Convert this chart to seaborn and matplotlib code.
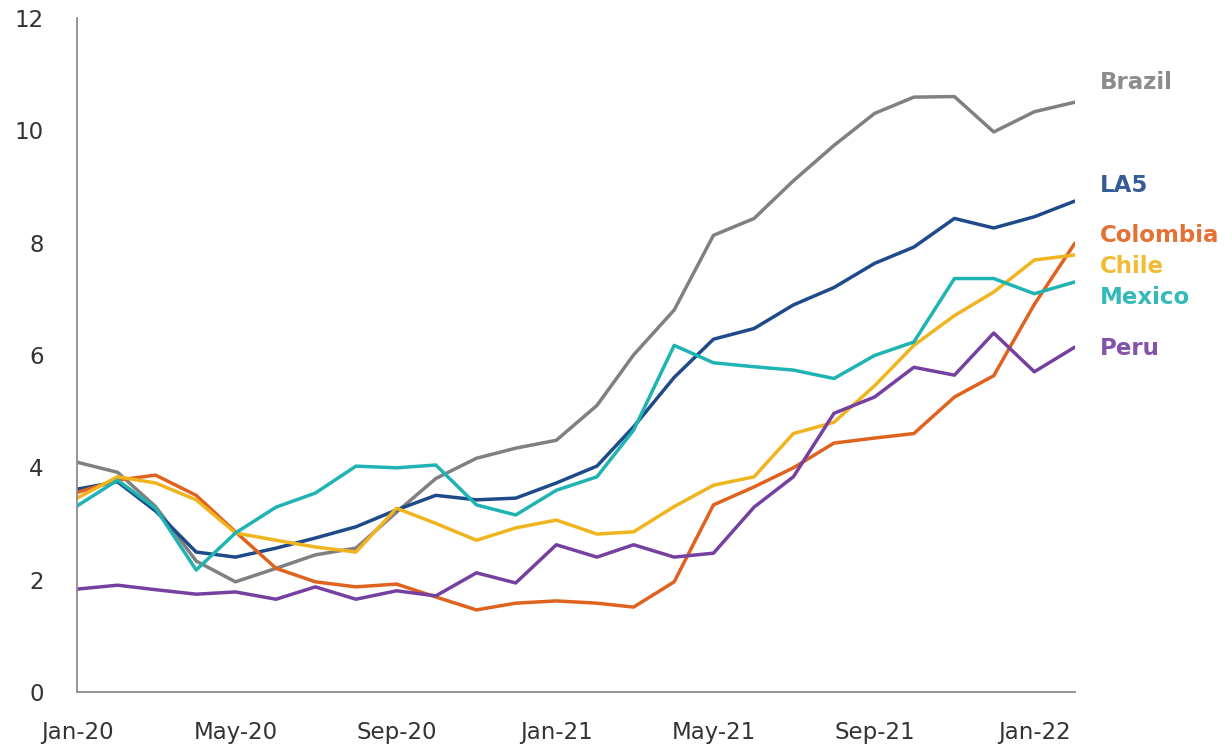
import matplotlib
matplotlib.use('Agg')
import matplotlib.pyplot as plt
import matplotlib.dates as mdates
import pandas as pd
import seaborn as sns

# данные, помесячно Jan-20 .. Feb-22
months = pd.date_range("2020-01-01", "2022-02-01", freq="MS")

brazil   = [4.09, 3.91, 3.30, 2.33, 1.96, 2.20, 2.44, 2.56, 3.20, 3.80, 4.16, 4.34, 4.48,
            5.10, 6.00, 6.80, 8.13, 8.43, 9.10, 9.73, 10.30, 10.59, 10.60, 9.97, 10.33, 10.50]
la5      = [3.61, 3.74, 3.22, 2.49, 2.40, 2.56, 2.74, 2.94, 3.24, 3.50, 3.42, 3.45, 3.72,
            4.02, 4.72, 5.60, 6.28, 6.47, 6.89, 7.20, 7.63, 7.92, 8.43, 8.26, 8.46, 8.74]
colombia = [3.55, 3.77, 3.86, 3.50, 2.85, 2.20, 1.96, 1.87, 1.92, 1.69, 1.46, 1.58, 1.62,
            1.58, 1.51, 1.96, 3.33, 3.65, 3.99, 4.43, 4.52, 4.60, 5.25, 5.63, 6.90, 7.99]
chile    = [3.45, 3.83, 3.72, 3.42, 2.83, 2.70, 2.58, 2.49, 3.27, 3.00, 2.70, 2.92, 3.06,
            2.81, 2.85, 3.30, 3.68, 3.83, 4.60, 4.80, 5.45, 6.17, 6.70, 7.12, 7.69, 7.78]
mexico   = [3.31, 3.77, 3.27, 2.17, 2.83, 3.29, 3.54, 4.02, 3.99, 4.04, 3.33, 3.15, 3.59,
            3.83, 4.66, 6.17, 5.86, 5.79, 5.73, 5.58, 5.99, 6.23, 7.36, 7.36, 7.09, 7.30]
peru     = [1.83, 1.90, 1.82, 1.74, 1.78, 1.65, 1.87, 1.65, 1.80, 1.71, 2.12, 1.94, 2.62,
            2.40, 2.62, 2.40, 2.47, 3.29, 3.83, 4.96, 5.25, 5.78, 5.64, 6.39, 5.70, 6.14]

series = {"Brazil": brazil, "LA5": la5, "Colombia": colombia,
          "Chile": chile, "Mexico": mexico, "Peru": peru}
colors = {"Brazil": "#808080", "LA5": "#1f4a8a", "Colombia": "#e0621f",
          "Chile": "#f0b41e", "Mexico": "#1fb3b3", "Peru": "#7540a0"}
# позиции подписей справа (значения по оси y)
label_y = {"Brazil": 10.85, "LA5": 9.02, "Colombia": 8.12,
           "Chile": 7.58, "Mexico": 7.03, "Peru": 6.12}

df = pd.concat(
    [pd.DataFrame({"date": months, "value": v, "country": k}) for k, v in series.items()],
    ignore_index=True,
)

sns.set_style("white")
plt.rcParams['font.family'] = ['DejaVu Sans']

fig = plt.figure(figsize=(12.32, 7.48), dpi=100)
ax = fig.add_axes([0.0625, 0.075, 0.81, 0.901])

sns.lineplot(data=df, x="date", y="value", hue="country", palette=colors,
             linewidth=2.5, legend=False, ax=ax)

ax.set_ylim(0, 12)
ax.set_xlim(months[0], months[-1])
ax.set_yticks(range(0, 13, 2))
ax.set_xticks(pd.to_datetime(["2020-01-01", "2020-05-01", "2020-09-01",
                              "2021-01-01", "2021-05-01", "2021-09-01", "2022-01-01"]))
ax.xaxis.set_major_formatter(mdates.DateFormatter("%b-%y"))
ax.set_xlabel("")
ax.set_ylabel("")

for side in ["top", "right"]:
    ax.spines[side].set_visible(False)
for side in ["left", "bottom"]:
    ax.spines[side].set_color("#8c8c8c")
    ax.spines[side].set_linewidth(1.3)

ax.tick_params(axis="both", direction="in", length=6, width=1, color="#8c8c8c",
               labelsize=16.5, labelcolor="#333333")
ax.tick_params(axis="y", pad=24)
ax.tick_params(axis="x", pad=21)

for name, yv in label_y.items():
    ax.text(1.025, yv, name, transform=ax.get_yaxis_transform(),
            color=colors[name], fontsize=16.5, fontweight="bold", alpha=0.9,
            va="center", ha="left", clip_on=False)

plt.savefig("out.png", dpi=100)
plt.close()
